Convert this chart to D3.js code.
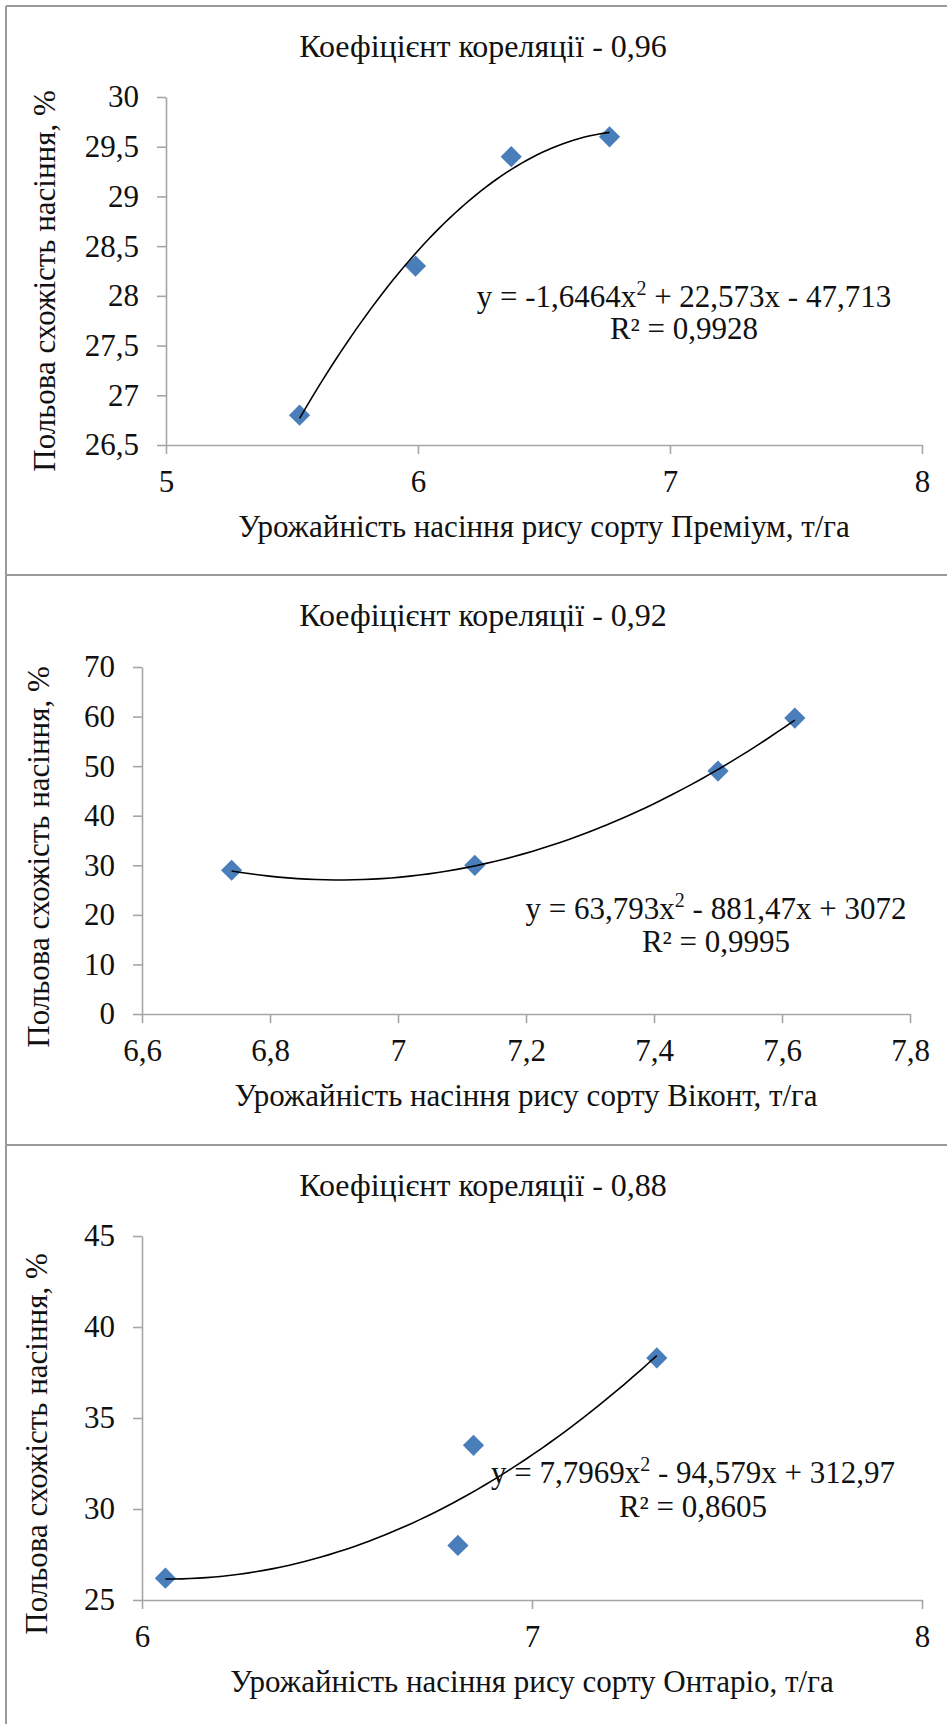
<!DOCTYPE html>
<html>
<head>
<meta charset="utf-8">
<script src="https://cdn.jsdelivr.net/npm/d3@7"></script>
<style>
    body { margin: 0; background: #fff; }
    svg { display: block; font-family: "Liberation Serif", "DejaVu Serif", serif; }
    svg text { font-family: "Liberation Serif", "DejaVu Serif", serif; }
</style>
</head>
<body>
<script>
(function() {

    // Преміум
    var premiumYield = [5.53, 5.99, 6.37, 6.76];
    var premiumGerm = [26.8, 28.3, 29.4, 29.6];
    var premiumFit = [-1.6464, 22.573, -47.713];
    var premiumXTicks = [5, 6, 7, 8];
    var premiumYTicks = [26.5, 27, 27.5, 28, 28.5, 29, 29.5, 30];

    // Віконт
    var vikontYield = [6.74, 7.12, 7.5, 7.62];
    var vikontGerm = [29, 30, 49, 59.7];
    var vikontFit = [63.793, -881.47, 3072];
    var vikontXTicks = [6.6, 6.8, 7, 7.2, 7.4, 7.6, 7.8];
    var vikontYTicks = [0, 10, 20, 30, 40, 50, 60, 70];

    // Онтаріо
    var ontarioYield = [6.06, 6.81, 6.85, 7.32];
    var ontarioGerm = [26.2, 28, 33.5, 38.3];
    var ontarioFit = [7.7969, -94.579, 312.97];
    var ontarioXTicks = [6, 7, 8];
    var ontarioYTicks = [25, 30, 35, 40, 45];

    var titles = ["Коефіцієнт кореляції - 0,96", "Коефіцієнт кореляції - 0,92", "Коефіцієнт кореляції - 0,88"];
    var xTitles = ["Урожайність насіння рису сорту Преміум, т/га",
                   "Урожайність насіння рису сорту Віконт, т/га",
                   "Урожайність насіння рису сорту Онтаріо, т/га"];
    var yTitle = "Польова схожість насіння, %";
    var eqTexts = [["y = -1,6464x", " + 22,573x - 47,713"],
                   ["y = 63,793x", " - 881,47x + 3072"],
                   ["y = 7,7969x", " - 94,579x + 312,97"]];
    var r2Texts = ["R² = 0,9928", "R² = 0,9995", "R² = 0,8605"];

    var width = 947,
        height = 1724,
        fontSize = 31,
        fontFamily = "'Liberation Serif', 'DejaVu Serif', serif",
        textColor = "#111",
        axisColor = "#a6a6a6",
        markerColor = "#4a7ebb";

    // layout of the three panels
    var panels = [
        {x: premiumYield, y: premiumGerm, fit: premiumFit, xTicks: premiumXTicks, yTicks: premiumYTicks,
         left: 166, right: 922, top: 97, bottom: 445, border: 6,
         titleY: 57, yLabelX: 45, yLabelY: 281, eqX: 684, eqY: 307, r2Y: 339},
        {x: vikontYield, y: vikontGerm, fit: vikontFit, xTicks: vikontXTicks, yTicks: vikontYTicks,
         left: 142, right: 910, top: 667, bottom: 1014, border: 575,
         titleY: 626, yLabelX: 39, yLabelY: 857, eqX: 716, eqY: 919, r2Y: 952},
        {x: ontarioYield, y: ontarioGerm, fit: ontarioFit, xTicks: ontarioXTicks, yTicks: ontarioYTicks,
         left: 142, right: 922, top: 1236, bottom: 1600, border: 1145,
         titleY: 1196, yLabelX: 37, yLabelY: 1444, eqX: 693, eqY: 1483, r2Y: 1517}
    ];

    var svg = d3.select("body")
        .append("svg")
        .attr("width", width)
        .attr("height", height);

    // frame lines
    svg.append("line")
        .attr("x1", 6).attr("x2", 6)
        .attr("y1", 6).attr("y2", height)
        .attr("stroke", "#9a9a9a").attr("stroke-width", 2);

    panels.forEach(function(p, i) {
        svg.append("line")
            .attr("x1", 6).attr("x2", width)
            .attr("y1", p.border).attr("y2", p.border)
            .attr("stroke", "#9a9a9a").attr("stroke-width", 2);
        drawPanel(p, i);
    });

    function fmt(v) {
        return String(v).replace(".", ",");
    }

    function drawPanel(p, i) {
        var g = svg.append("g");

        var xScale = d3.scaleLinear()
            .domain(d3.extent(p.xTicks))
            .range([p.left, p.right]);

        var yScale = d3.scaleLinear()
            .domain(d3.extent(p.yTicks))
            .range([p.bottom, p.top]);

        var yAxis = g.append("g")
            .attr("transform", "translate(" + p.left + ",0)")
            .call(d3.axisLeft(yScale)
                .tickValues(p.yTicks)
                .tickFormat(fmt)
                .tickSize(9)
                .tickSizeOuter(0)
                .tickPadding(18));

        var xAxis = g.append("g")
            .attr("transform", "translate(0," + p.bottom + ")")
            .call(d3.axisBottom(xScale)
                .tickValues(p.xTicks)
                .tickFormat(fmt)
                .tickSize(9)
                .tickSizeOuter(0)
                .tickPadding(16));

        [xAxis, yAxis].forEach(function(ax) {
            ax.attr("font-family", fontFamily).attr("font-size", fontSize);
            ax.select(".domain").attr("stroke", axisColor).attr("stroke-width", 1.6);
            ax.selectAll(".tick line").attr("stroke", axisColor).attr("stroke-width", 1.6);
            ax.selectAll("text").attr("fill", textColor);
        });

        // markers
        var pts = p.x.map(function(d, k) { return [d, p.y[k]]; });
        g.selectAll(".pt")
            .data(pts)
            .enter()
            .append("path")
            .attr("class", "pt")
            .attr("d", d3.symbol().type(d3.symbolSquare).size(225))
            .attr("transform", function(d) {
                return "translate(" + xScale(d[0]) + "," + yScale(d[1]) + ") rotate(45)";
            })
            .attr("fill", markerColor);

        // polynomial trend line from the shown equation
        var xs = d3.extent(p.x);
        var curve = d3.range(0, 61).map(function(k) {
            var xv = xs[0] + (xs[1] - xs[0]) * k / 60;
            return [xv, p.fit[0] * xv * xv + p.fit[1] * xv + p.fit[2]];
        });
        g.append("path")
            .datum(curve)
            .attr("fill", "none")
            .attr("stroke", "#000")
            .attr("stroke-width", 1.6)
            .attr("d", d3.line()
                .x(function(d) { return xScale(d[0]); })
                .y(function(d) { return yScale(d[1]); }));

        // texts
        g.append("text")
            .attr("x", 483)
            .attr("y", p.titleY)
            .attr("text-anchor", "middle")
            .style("font-size", "32px")
            .attr("fill", textColor)
            .text(titles[i]);

        g.append("text")
            .attr("x", (p.left + p.right) / 2)
            .attr("y", p.bottom + 92)
            .attr("text-anchor", "middle")
            .style("font-size", fontSize + "px")
            .attr("fill", textColor)
            .text(xTitles[i]);

        g.append("text")
            .attr("transform", "translate(" + (p.yLabelX + 10) + "," + p.yLabelY + ") rotate(-90)")
            .attr("text-anchor", "middle")
            .style("font-size", fontSize + "px")
            .attr("fill", textColor)
            .text(yTitle);

        var eq = g.append("text")
            .attr("x", p.eqX)
            .attr("y", p.eqY)
            .attr("text-anchor", "middle")
            .style("font-size", fontSize + "px")
            .attr("fill", textColor);
        eq.append("tspan").text(eqTexts[i][0]);
        eq.append("tspan").attr("dy", -12).style("font-size", "20px").text("2");
        eq.append("tspan").attr("dy", 12).text(eqTexts[i][1]);

        g.append("text")
            .attr("x", p.eqX)
            .attr("y", p.r2Y)
            .attr("text-anchor", "middle")
            .style("font-size", fontSize + "px")
            .attr("fill", textColor)
            .text(r2Texts[i]);
    }

})();
</script>
</body>
</html>
